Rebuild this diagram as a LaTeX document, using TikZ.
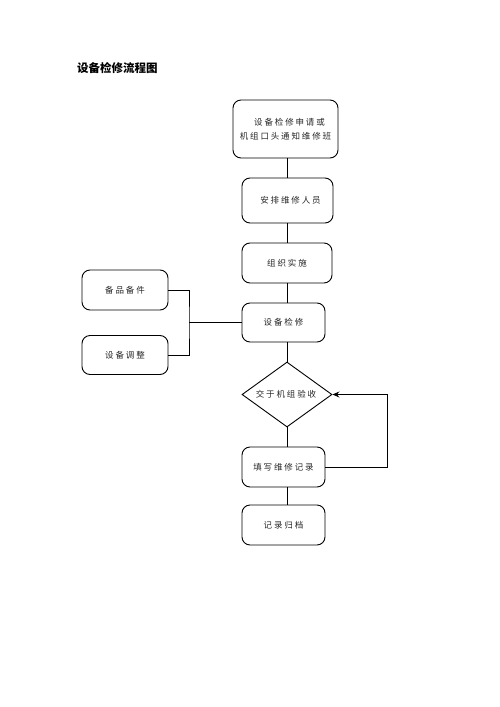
\documentclass[tikz,border=0pt]{standalone}
\usepackage{fontspec}
\usetikzlibrary{shapes.geometric,arrows.meta}
\newfontfamily\cjk[LetterSpace=22]{Noto Sans CJK SC}
\newfontfamily\cjktitle{Noto Sans CJK SC}
\begin{document}
\begin{tikzpicture}[x=1pt,y=-1pt,
  box/.style={draw=black,line width=0.9pt,rounded corners=8pt,inner sep=0pt,
    font=\cjk\fontsize{8.5}{14}\selectfont,text=black!85,align=center},
  conn/.style={draw=black,line width=0.9pt},
  ttl/.style={font=\cjktitle\bfseries\fontsize{11.5}{13}\selectfont,inner sep=0pt,anchor=west}]
\useasboundingbox (0,0) rectangle (500,707);
\node[ttl] (title) at (77,68) {设备检修流程图};
\node[box,minimum width=105pt,minimum height=58pt] (b1) at (285.5,129) {\hspace{8pt}设备检修申请或\\机组口头通知维修班};
\node[box,minimum width=91pt,minimum height=45pt] (b2) at (287.5,200.5) {\hspace{6pt}安排维修人员};
\node[box,minimum width=90pt,minimum height=40pt] (b3) at (287,263) {组织实施};
\node[box,minimum width=83pt,minimum height=39pt] (b4) at (283.5,322.5) {设备检修};
\node[draw=black,line width=0.9pt,diamond,minimum width=90pt,minimum height=65pt,inner sep=0pt] (d) at (287,394.5) {};
\node[font=\cjk\fontsize{8.5}{10}\selectfont,text=black!85,inner sep=0pt] (dt) at (286,394.5) {交于机组验收};
\node[box,minimum width=83pt,minimum height=40pt] (rec) at (283.5,467) {填写维修记录};
\node[box,minimum width=83pt,minimum height=40pt] (arc) at (283.5,525) {记录归档};
\node[box,minimum width=86pt,minimum height=40pt] (bp) at (125,290) {备品备件};
\node[box,minimum width=86pt,minimum height=39pt] (tz) at (125,355) {设备调整};
\coordinate (j) at (189,322.5);
\coordinate (c) at (387,467);
\draw[conn] (b1.south -| d.north) -- (b2.north -| d.north);
\draw[conn] (b2.south -| d.north) -- (b3.north -| d.north);
\draw[conn] (b3.south -| d.north) -- (b4.north -| d.north);
\draw[conn] (b4.south -| d.north) -- (d.north);
\draw[conn] (d.south) -- (rec.north -| d.south);
\draw[conn] (rec.south -| d.south) -- (arc.north -| d.south);
\draw[conn] (bp.east) -| (j) |- (tz.east);
\draw[conn] (j) -- (b4.west);
\draw[conn,-{Stealth[length=7pt,width=6pt,inset=2.5pt]}] (rec.east) -- (c) |- (d.east);
\end{tikzpicture}
\end{document}
